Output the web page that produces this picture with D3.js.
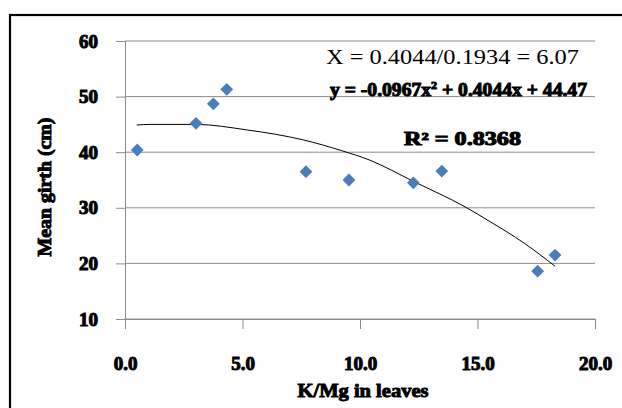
<!DOCTYPE html>
<html>
<head>
<meta charset="utf-8">
<script src="https://cdn.jsdelivr.net/npm/d3@7"></script>
<style>
  body { margin: 0; background: #fff; }
  svg { display: block; }
  .tick text { font-family: "Liberation Serif", "Times New Roman", serif; font-weight: bold; }
</style>
</head>
<body>
<div id="chart"></div>
<script>
var kMg = [0.52, 3.02, 3.76, 4.33, 7.70, 9.53, 12.27, 13.48, 17.56, 18.30]
var girth = [40.4, 45.2, 48.7, 51.3, 36.5, 35.0, 34.5, 36.6, 18.6, 21.5]

var trendX = [0.5, 1.1, 3.0, 5.2, 7.6, 9.2, 10.4, 12.3, 14.5, 15.5, 17.0, 18.3]
var trendY = [44.9, 45.0, 45.0, 44.0, 42.2, 40.3, 38.6, 34.7, 30.1, 27.6, 23.6, 19.5]

var xTicks = [0, 5, 10, 15, 20]
var yTicks = [10, 20, 30, 40, 50, 60]

var width = 622
var height = 408
var margin = {top: 41, right: 27, bottom: 89, left: 125}
var w = width - margin.left - margin.right
var h = height - margin.top - margin.bottom

var svg = d3.select("#chart")
    .append("svg")
    .attr("width", width)
    .attr("height", height)

// rand om de grafiek
svg.append("rect")
    .attr("x", 10)
    .attr("y", 15)
    .attr("width", 640)
    .attr("height", 420)
    .attr("fill", "none")
    .attr("stroke", "#000")
    .attr("stroke-width", 2.2)

var g = svg.append("g")
    .attr("transform", "translate(" + margin.left + "," + margin.top + ")")

var xScale = d3.scaleLinear()
    .range([0, w])
    .domain([0, 20])

var yScale = d3.scaleLinear()
    .range([h, 0])
    .domain([10, 60])

// gridlijnen
g.append("g")
    .attr("class", "grid")
    .selectAll("line")
    .data(yTicks)
    .enter()
    .append("line")
    .attr("x1", 0)
    .attr("x2", w)
    .attr("y1", function(d) { return yScale(d) })
    .attr("y2", function(d) { return yScale(d) })
    .attr("stroke", "#8c8c8c")
    .attr("stroke-width", 1)

// x-as
var xAxis = g.append("g")
    .attr("class", "x-axis")
    .attr("transform", "translate(0," + h + ")")
    .call(d3.axisBottom(xScale).tickValues(xTicks).tickSize(10).tickPadding(28)
      .tickFormat(d3.format(".1f")))
xAxis.selectAll("text")
    .attr("font-size", 19)
    .attr("fill", "#000")
    .attr("stroke", "#000")
    .attr("stroke-width", 1)

// y-as
var yAxis = g.append("g")
    .attr("class", "y-axis")
    .call(d3.axisLeft(yScale).tickValues(yTicks).tickSize(9).tickPadding(18))
yAxis.selectAll("text")
    .attr("font-size", 19)
    .attr("fill", "#000")
    .attr("stroke", "#000")
    .attr("stroke-width", 1)

svg.selectAll(".domain").attr("stroke", "#8c8c8c")
svg.selectAll(".tick line").attr("stroke", "#8c8c8c")

// trendlijn
var line = d3.line()
    .x(function(d) { return xScale(d[0]) })
    .y(function(d) { return yScale(d[1]) })
    .curve(d3.curveMonotoneX)

g.append("path")
    .datum(d3.zip(trendX, trendY))
    .attr("d", line)
    .attr("fill", "none")
    .attr("stroke", "#000")
    .attr("stroke-width", 1)

// ruitjes
g.append("g").selectAll("path")
    .data(d3.zip(kMg, girth))
    .enter()
    .append("path")
    .attr("d", d3.symbol(d3.symbolSquare, 82))
    .attr("transform", function(d) {
      return "translate(" + xScale(d[0]) + "," + yScale(d[1]) + ") rotate(45)"
    })
    .attr("fill", "#4a7ebb")

// teksten
var serif = "'Liberation Serif', 'Times New Roman', serif"

svg.append("text")
    .attr("x", 326)
    .attr("y", 64)
    .attr("font-family", serif)
    .attr("font-size", 21)
    .attr("textLength", 253)
    .attr("lengthAdjust", "spacingAndGlyphs")
    .text("X = 0.4044/0.1934 = 6.07")

var eq = svg.append("text")
    .attr("x", 330)
    .attr("y", 96)
    .attr("font-family", serif)
    .attr("font-weight", "bold")
    .attr("font-size", 18)
    .attr("stroke", "#000")
    .attr("stroke-width", 1)
    .attr("textLength", 257)
    .attr("lengthAdjust", "spacingAndGlyphs")
eq.append("tspan").text("y = -0.0967x")
eq.append("tspan").attr("dy", -7).attr("font-size", 11).text("2")
eq.append("tspan").attr("dy", 7).text(" + 0.4044x + 44.47")

svg.append("text")
    .attr("x", 404)
    .attr("y", 145)
    .attr("font-family", serif)
    .attr("font-weight", "bold")
    .attr("font-size", 18)
    .attr("stroke", "#000")
    .attr("stroke-width", 1)
    .attr("textLength", 117)
    .attr("lengthAdjust", "spacingAndGlyphs")
    .text("R² = 0.8368")

svg.append("text")
    .attr("x", 363)
    .attr("y", 397)
    .attr("text-anchor", "middle")
    .attr("font-family", serif)
    .attr("font-weight", "bold")
    .attr("font-size", 18)
    .attr("stroke", "#000")
    .attr("stroke-width", 0.9)
    .attr("textLength", 131)
    .attr("lengthAdjust", "spacingAndGlyphs")
    .text("K/Mg in leaves")

svg.append("text")
    .attr("transform", "translate(51,187) rotate(-90)")
    .attr("text-anchor", "middle")
    .attr("font-family", serif)
    .attr("font-weight", "bold")
    .attr("font-size", 18)
    .attr("stroke", "#000")
    .attr("stroke-width", 0.9)
    .attr("textLength", 139)
    .attr("lengthAdjust", "spacingAndGlyphs")
    .text("Mean girth (cm)")
</script>
</body>
</html>
